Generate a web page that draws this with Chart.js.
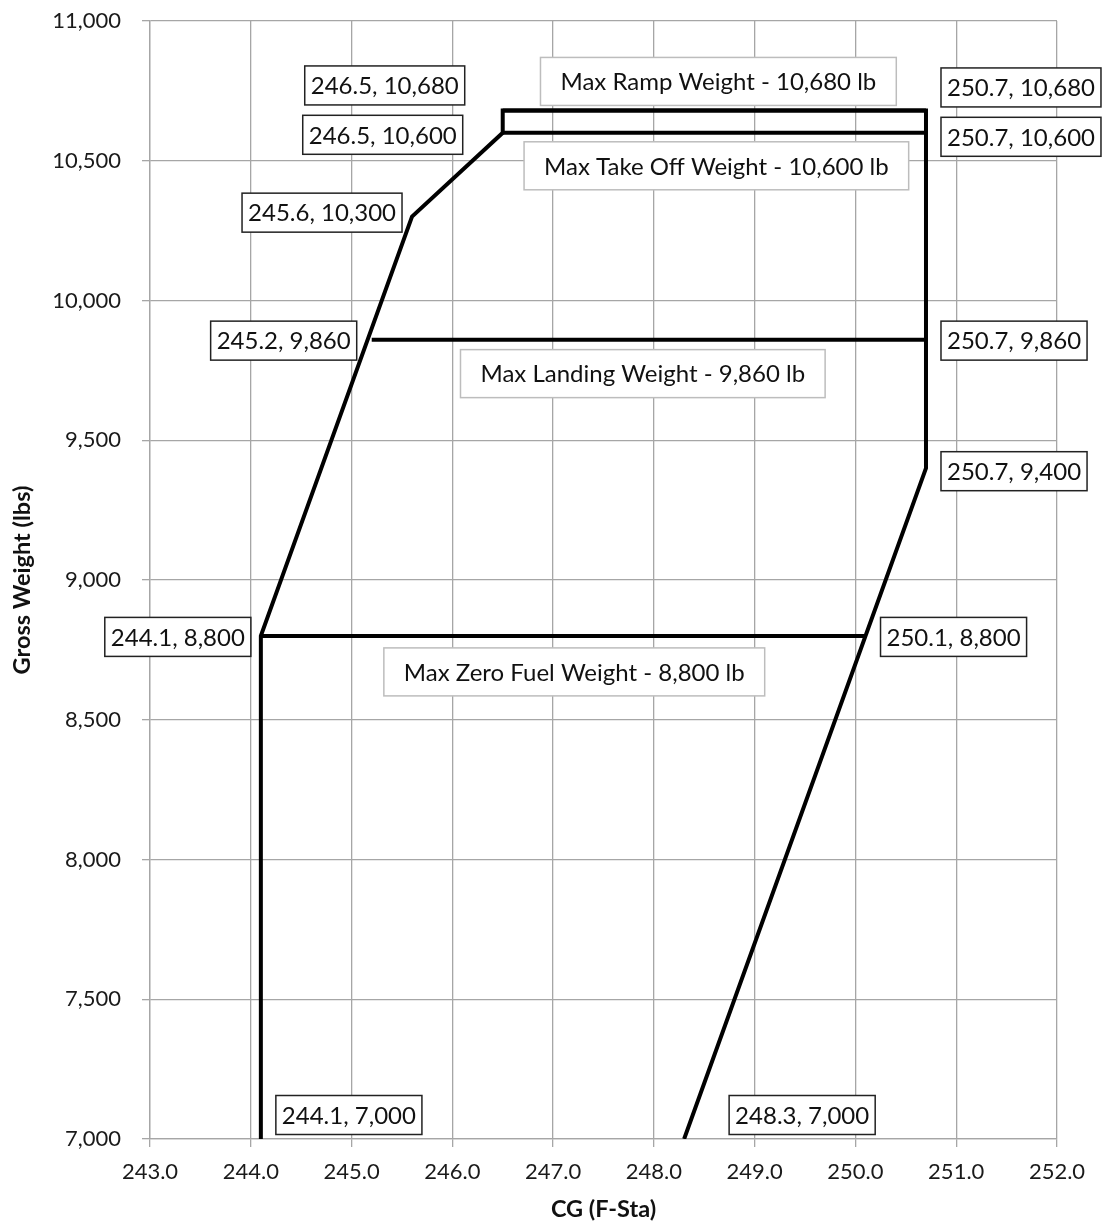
<!DOCTYPE html>
<html><head><meta charset="utf-8">
<script src="https://cdn.jsdelivr.net/npm/chart.js@4"></script>
<style>html,body{margin:0;padding:0;background:#fff}#wrap{width:1106px;height:1226px}</style>
</head><body><div id="wrap"><canvas id="c" width="1106" height="1226"></canvas></div>
<script>
// Envelope outline (CG, weight)
const envelopeCG     = [244.1, 244.1, 245.6, 246.5, 246.5, 250.7, 250.7, 248.3];
const envelopeWeight = [7000, 8800, 10300, 10600, 10680, 10680, 9400, 7000];
// Weight limit lines
const limitNames   = ['Max Ramp Weight', 'Max Take Off Weight', 'Max Landing Weight', 'Max Zero Fuel Weight'];
const limitWeights = [10680, 10600, 9860, 8800];
const limitFromCG  = [246.5, 246.5, 245.2, 244.1];
const limitToCG    = [250.7, 250.7, 250.7, 250.1];
// Axis ticks
const xMin = 243, xMax = 252, xStep = 1;
const yMin = 7000, yMax = 11000, yStep = 500;
// Labelled points
const labelCG     = [246.5, 246.5, 245.6, 245.2, 244.1, 244.1, 248.3, 250.7, 250.7, 250.7, 250.7, 250.1];
const labelWeight = [10680, 10600, 10300, 9860, 8800, 7000, 7000, 10680, 10600, 9860, 9400, 8800];

// ---- presentation (positions in pixels relative to points) ----
const pointLabelPlacement = [
  {side:'right', dx:-38, dy:-25}, {side:'right', dx:-40, dy:2}, {side:'right', dx:-10, dy:-4},
  {side:'right', dx:-15, dy:1},  {side:'right', dx:-10, dy:1}, {side:'left', dx:15, dy:-24},
  {side:'left', dx:45, dy:-24},  {side:'left', dx:15, dy:-23}, {side:'left', dx:15, dy:4},
  {side:'left', dx:15, dy:1},    {side:'left', dx:15, dy:3},   {side:'left', dx:15, dy:1}
];
const limitLabelPlacement = [
  {cx:248.64, dy:-29}, {cx:248.62, dy:33}, {cx:247.89, dy:34}, {cx:247.21, dy:36}
];
const FONT = 'Lato, "Open Sans", sans-serif';
const fmt = v => v.toLocaleString('en-US');

const datasets = [{
  data: envelopeCG.map((x,i)=>({x, y: envelopeWeight[i]})),
  showLine:true, borderColor:'#000', borderWidth:4, pointRadius:0, borderJoinStyle:'miter', fill:false
}];
limitWeights.forEach((w,i)=>{
  datasets.push({
    data:[{x:limitFromCG[i], y:w},{x:limitToCG[i], y:w}],
    showLine:true, borderColor:'#000', borderWidth:4, pointRadius:0, fill:false
  });
});

const labelsPlugin = {
  id:'labels',
  afterDatasetsDraw(chart){
    const ctx = chart.ctx, xs = chart.scales.x, ys = chart.scales.y;
    ctx.save();
    ctx.font = '24px ' + FONT;
    ctx.textBaseline = 'middle';
    ctx.textAlign = 'center';
    limitNames.forEach((n,i)=>{
      const t = n + ' - ' + fmt(limitWeights[i]) + ' lb';
      const p = limitLabelPlacement[i];
      const cx = xs.getPixelForValue(p.cx), cy = ys.getPixelForValue(limitWeights[i]) + p.dy;
      const w = ctx.measureText(t).width + 40, h = 48;
      ctx.fillStyle = '#fff'; ctx.fillRect(cx-w/2, cy-h/2, w, h);
      ctx.strokeStyle = '#bdbdbd'; ctx.lineWidth = 1.5; ctx.strokeRect(cx-w/2, cy-h/2, w, h);
      ctx.fillStyle = '#111'; ctx.fillText(t, cx, cy+1);
    });
    labelCG.forEach((x,i)=>{
      const t = x.toFixed(1) + ', ' + fmt(labelWeight[i]);
      const p = pointLabelPlacement[i];
      const px = xs.getPixelForValue(x), py = ys.getPixelForValue(labelWeight[i]);
      const w = ctx.measureText(t).width + 12, h = 39;
      const left = p.side === 'right' ? px + p.dx - w : px + p.dx;
      const cy = py + p.dy;
      ctx.fillStyle = '#fff'; ctx.fillRect(left, cy-h/2, w, h);
      ctx.strokeStyle = '#222'; ctx.lineWidth = 1.5; ctx.strokeRect(left, cy-h/2, w, h);
      ctx.fillStyle = '#111'; ctx.fillText(t, left + w/2, cy+1);
    });
    ctx.restore();
  }
};

new Chart(document.getElementById('c'), {
  type:'scatter',
  data:{datasets},
  plugins:[labelsPlugin],
  options:{
    responsive:false, animation:false, devicePixelRatio:1,
    layout:{padding:{top:21, right:49, left:0, bottom:0}},
    plugins:{legend:{display:false}, tooltip:{enabled:false}},
    scales:{
      x:{type:'linear', min:xMin, max:xMax,
        ticks:{stepSize:xStep, callback:v=>v.toFixed(1), color:'#1a1a1a', font:{family:FONT, size:22}, padding:12, maxRotation:0},
        grid:{color:'#a6a6a6', lineWidth:1.3, tickLength:8},
        border:{color:'#a6a6a6', width:1.3},
        title:{display:true, text:'CG (F-Sta)', color:'#111', font:{family:FONT, size:23.5, weight:'bold'}, padding:{top:4,bottom:2}},
        afterFit(s){ s.height = 87; s.paddingLeft = 0; s.paddingRight = 0; }
      },
      y:{type:'linear', min:yMin, max:yMax,
        ticks:{stepSize:yStep, callback:v=>fmt(v), color:'#1a1a1a', font:{family:FONT, size:22}, padding:21},
        grid:{color:'#a6a6a6', lineWidth:1.3, tickLength:8},
        border:{color:'#a6a6a6', width:1.3},
        title:{display:true, text:'Gross Weight (lbs)', color:'#111', font:{family:FONT, size:23.5, weight:'bold'}, padding:{top:8,bottom:3}},
        afterFit(s){ s.width = 150; s.paddingTop = 0; s.paddingBottom = 0; }
      }
    }
  }
});
</script>
</body></html>
